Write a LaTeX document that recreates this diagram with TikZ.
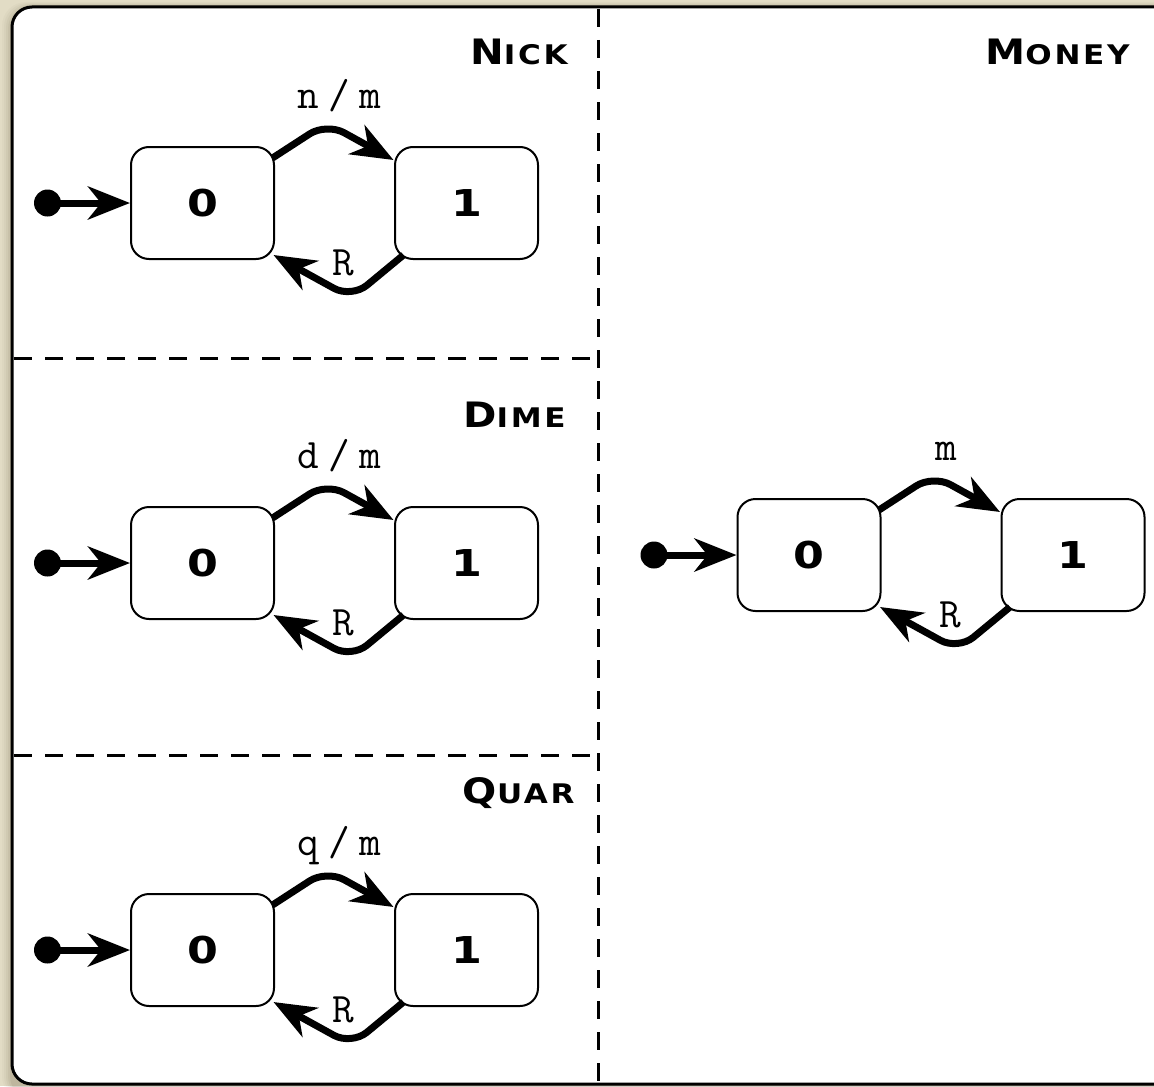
\documentclass[tikz,border=0pt]{standalone}
\usepackage{fontspec}
\usetikzlibrary{arrows.meta,calc}
\newfontfamily\titlefont[FakeStretch=1.15,LetterSpace=10]{DejaVu Sans}
\newfontfamily\statefont[FakeStretch=1.2]{DejaVu Sans}
\definecolor{bgc}{RGB}{226,220,197}
\definecolor{shadowc}{RGB}{120,110,80}
\newcommand\sctitle[2]{{\titlefont\bfseries\fontsize{17.5}{18}\selectfont #1\fontsize{13.5}{14}\selectfont #2}}
\newcommand\fsmachine[4]{%
  \node[statebox] (#1a) at ({#2-132},#3) {0};
  \node[statebox] (#1b) at ({#2+132},#3) {1};
  \node[dotnode] (#1i) at ({#2-287},#3) {};
  \draw[trans] (#1i.center) -- (#1a.west);
  \draw[trans] ($(#1a)+(70,-45)$) -- ($(#1a)!.5!(#1b)+(-8,-80)$) -- ($(#1b)+(-73,-43)$);
  \draw[trans] ($(#1b)+(-63,52)$) -- ($(#1a)!.5!(#1b)+(17,95)$) -- ($(#1a)+(71,52)$);
  \node[lab] (#1t) at ($(#1a)!.5!(#1b)+(5,-95)$) {#4};
  \node[lab] (#1r) at ($(#1a)!.5!(#1b)+(9,72)$) {R};
}
\begin{document}
\begin{tikzpicture}[x=0.5pt,y=-0.5pt,
  statebox/.style={draw, line width=1pt, rounded corners=9pt, minimum width=71.5pt, minimum height=56pt, inner sep=0pt, fill=white, font=\statefont\bfseries\fontsize{18.5}{19}\selectfont},
  dotnode/.style={circle, fill=black, minimum size=13.5pt, inner sep=0pt},
  trans/.style={line width=3.5pt, rounded corners=10pt, -{Stealth[length=21pt,width=16.5pt,inset=6.5pt]}},
  lab/.style={anchor=base, inner sep=0pt, font=\ttfamily\fontsize{21}{21}\selectfont},
  divider/.style={line width=1.5pt, dash pattern=on 9pt off 6.5pt},
  titlenode/.style={anchor=base east, inner sep=0pt}]
\useasboundingbox (0,0) rectangle (1154,1086);
\fill[bgc] (0,0) rectangle (1154,1086);
\begin{scope}
\clip (0,0) rectangle (1154,1086);
\foreach \d/\o in {10/0.04,8/0.05,6/0.07,4/0.09,2/0.12}
  \fill[shadowc, opacity=\o, rounded corners=12pt] ({12-\d},{7-\d/2}) rectangle (1180,1100);
\draw[line width=1.5pt, fill=white, rounded corners=10pt] (12,7) rectangle (1175,1084);
\draw[divider] (598,9) -- (598,1083);
\draw[divider] (14,358) -- (598,358);
\draw[divider] (14,755) -- (598,755);
\end{scope}
\node[titlenode] (tnick) at (568,65) {\sctitle{N}{ICK}};
\node[titlenode] (tdime) at (566,427) {\sctitle{D}{IME}};
\node[titlenode] (tquar) at (575,803) {\sctitle{Q}{UAR}};
\node[titlenode] (tmoney) at (1130,65) {\sctitle{M}{ONEY}};
\fsmachine{p}{334.5}{203}{n\hspace{0.23em}/\hspace{0.23em}m}
\fsmachine{q}{334.5}{563}{d\hspace{0.23em}/\hspace{0.23em}m}
\fsmachine{r}{334.5}{950}{q\hspace{0.23em}/\hspace{0.23em}m}
\fsmachine{s}{941}{555}{m}
\end{tikzpicture}
\end{document}
